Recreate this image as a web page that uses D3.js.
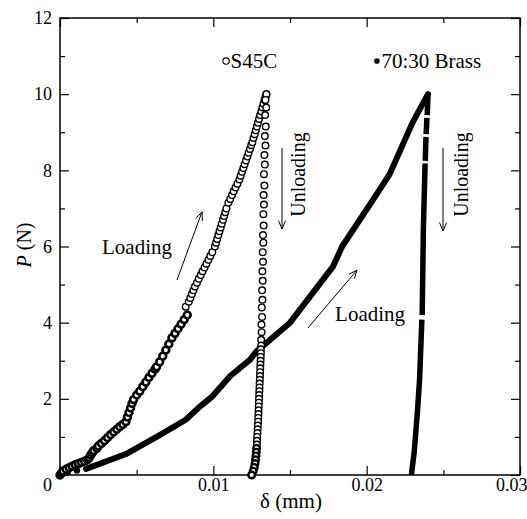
<!DOCTYPE html>
<html><head><meta charset="utf-8">
<script src="https://cdn.jsdelivr.net/npm/d3@7"></script>
<style>
html,body{margin:0;padding:0;background:#fff;}
</style></head>
<body><svg id="c" width="527" height="519"></svg>
<script>
// ---- data (δ in mm, P in N) ----
const xMajorTicks = [0, 0.01, 0.02, 0.03];
const xMinorTicks = [0.005, 0.015, 0.025];
const yMajorTicks = [0, 2, 4, 6, 8, 10, 12];
const yMinorTicks = [1, 3, 5, 7, 9, 11];

const s45cLoading = [
 [0,0],[0.0001,0.05],[0.0002,0.1],[0.0004,0.15],[0.0006,0.19],[0.0008,0.23],[0.001,0.27],[0.0012,0.3],[0.0014,0.33],[0.0016,0.36],[0.0018,0.4],[0.0019,0.45],
 [0.002,0.52],[0.0021,0.58],[0.0022,0.64],[0.0024,0.7],[0.0025,0.76],[0.0027,0.83],[0.0029,0.9],[0.0031,0.98],[0.0033,1.06],[0.0035,1.13],[0.0037,1.2],[0.0039,1.27],[0.0041,1.33],[0.0043,1.4],
 [0.0044,1.52],[0.0045,1.64],[0.0046,1.76],[0.0047,1.88],[0.0048,1.98],[0.005,2.1],
 [0.0052,2.2],[0.0054,2.32],[0.0056,2.44],[0.0058,2.56],[0.006,2.67],[0.0062,2.78],[0.0063,2.84],
 [0.0065,2.97],[0.0067,3.12],[0.0069,3.28],[0.0071,3.44],[0.0073,3.6],
 [0.0075,3.72],[0.0077,3.84],[0.0079,3.96],[0.0081,4.08],[0.0083,4.2],[0.0082,4.42],
 [0.0084,4.55],[0.0085,4.65],[0.0086,4.75],[0.0087,4.85],[0.0088,4.95],
 [0.00893,5.05],[0.00905,5.15],[0.00918,5.25],[0.0093,5.35],[0.00943,5.45],[0.00955,5.55],[0.00968,5.65],[0.0098,5.75],[0.00993,5.85],[0.0101,6.0],
 [0.01018,6.1],[0.01025,6.2],[0.01033,6.3],[0.0104,6.4],[0.01048,6.5],[0.01055,6.6],[0.01063,6.7],[0.0107,6.8],[0.01078,6.9],[0.01085,7.0],
 [0.01098,7.15],[0.0111,7.25],[0.01122,7.35],[0.01133,7.45],[0.01145,7.55],[0.01157,7.65],[0.0117,7.76],
 [0.01178,7.86],[0.01187,7.96],[0.01196,8.06],[0.01204,8.16],[0.01213,8.26],[0.01222,8.36],[0.0123,8.46],[0.01239,8.56],[0.01247,8.66],[0.01255,8.74],
 [0.01262,8.85],[0.0127,8.95],[0.01277,9.05],[0.01284,9.15],[0.01291,9.25],[0.01298,9.35],[0.01305,9.45],[0.01313,9.55],[0.0132,9.65],[0.01327,9.75],[0.01334,9.85],[0.0134,9.93],[0.01346,10]
];
const s45cUnloading = [
 [0.01346,10],[0.0134,9.85],[0.01345,9.65],[0.01338,9.45],[0.01342,9.15],[0.01336,8.9],[0.0134,8.65],[0.01333,8.4],[0.01336,8.15],[0.0133,7.9],[0.01333,7.6],[0.01328,7.35],[0.0133,7.1],[0.01326,6.85],[0.01328,6.55],[0.01324,6.3],[0.01326,6.1],[0.01322,5.85],[0.01324,5.6],[0.0132,5.35],[0.01322,5.1],[0.01318,4.85],[0.0132,4.6],[0.01316,4.4],[0.01318,4.15],[0.01314,3.95],[0.01315,3.75],[0.01312,3.55],[0.01312,3.4],
 [0.0131,3.3],[0.0131,3.2],[0.01309,3.1],[0.01308,3.0],[0.01307,2.9],[0.01306,2.8],[0.01305,2.7],[0.01304,2.6],[0.01303,2.5],[0.01302,2.4],[0.01301,2.3],[0.013,2.2],[0.01299,2.1],[0.01298,2.0],[0.01297,1.9],[0.01296,1.8],[0.01295,1.7],[0.01294,1.6],[0.01293,1.5],[0.01292,1.4],[0.0129,1.3],[0.01289,1.2],[0.01288,1.1],[0.01286,1.0],[0.01285,0.9],[0.01284,0.8],[0.01282,0.7],[0.0128,0.6],[0.01278,0.5],[0.01275,0.4],[0.01272,0.3],[0.01267,0.2],[0.0126,0.1],[0.0125,0]
];
const brassStart = [[0,0],[0.0005,0.08],[0.0011,0.12]];
const brassLoading = [
 [0.0017,0.16],[0.0043,0.55],[0.0065,1.05],[0.0082,1.45],[0.0091,1.79],[0.0099,2.05],[0.0111,2.6],[0.0124,3.03],[0.0128,3.24],[0.015,4.0],[0.0178,5.47],[0.0184,6.0],[0.0204,7.22],[0.0215,7.9],[0.023,9.26],[0.024,10]
];
const brassUnloading = [
 [[0.024,10],[0.02395,9.45]],
 [[0.02393,9.38],[0.02388,8.95]],
 [[0.02387,8.88],[0.02382,8.25]],
 [[0.02381,8.18],[0.0237,6.5],[0.02362,4.2]],
 [[0.0236,4.08],[0.02345,2.5],[0.0233,1.6],[0.0231,0.6],[0.02296,0.15],[0.02292,0]]
];
const legendItems = [
 {label:"S45C", filled:false, at:[0.01083,10.87]},
 {label:"70:30 Brass", filled:true, at:[0.02067,10.87]}
];
const loadingLabels = [[0.00274,5.80],[0.01794,4.04]];
const loadingArrows = [[[0.00763,5.12],[0.00926,6.91]],[[0.01617,3.86],[0.01937,5.38]]];
const unloadingLabels = [[0.01598,6.78],[0.02661,6.78]];
const unloadingArrows = [[[0.01448,8.59],[0.01448,6.46]],[[0.02498,8.59],[0.02498,6.41]]];

// ---- chart ----
const FONT = "Liberation Serif";
const svg = d3.select("#c");
const L=60, R=520, T=18, B=475;
const x = d3.scaleLinear().domain([0,0.03]).range([L,R]);
const y = d3.scaleLinear().domain([0,12]).range([B,T]);

function ax(g, axis){ g.call(axis); g.attr("font-family",FONT); g.select(".domain").remove(); g.selectAll("line").attr("stroke","#000").attr("stroke-width",1.2); }

ax(svg.append("g").attr("transform",`translate(0,${B})`),
  d3.axisBottom(x).tickValues(xMajorTicks).tickSize(-9).tickSizeOuter(0).tickPadding(3).tickFormat(d=>d===0?"0":d3.format(".2f")(d)));
ax(svg.append("g").attr("transform",`translate(0,${B})`),
  d3.axisBottom(x).tickValues(xMinorTicks).tickSize(-5).tickSizeOuter(0).tickFormat(""));
ax(svg.append("g").attr("transform",`translate(0,${T})`),
  d3.axisTop(x).tickValues(xMajorTicks).tickSize(-9).tickSizeOuter(0).tickFormat(""));
ax(svg.append("g").attr("transform",`translate(0,${T})`),
  d3.axisTop(x).tickValues(xMinorTicks).tickSize(-5).tickSizeOuter(0).tickFormat(""));
ax(svg.append("g").attr("transform",`translate(${L},0)`),
  d3.axisLeft(y).tickValues(yMajorTicks).tickSize(-9).tickSizeOuter(0).tickPadding(8).tickFormat(d=>d===0?"":d));
ax(svg.append("g").attr("transform",`translate(${L},0)`),
  d3.axisLeft(y).tickValues(yMinorTicks).tickSize(-5).tickSizeOuter(0).tickFormat(""));
ax(svg.append("g").attr("transform",`translate(${R},0)`),
  d3.axisRight(y).tickValues(yMajorTicks).tickSize(-9).tickSizeOuter(0).tickFormat(""));
ax(svg.append("g").attr("transform",`translate(${R},0)`),
  d3.axisRight(y).tickValues(yMinorTicks).tickSize(-5).tickSizeOuter(0).tickFormat(""));

svg.selectAll(".tick text").attr("font-size",18).attr("font-family",FONT).attr("fill","#000");
svg.selectAll(".tick text").filter(d=>d===0).attr("dx",-13);
svg.selectAll(".tick text").filter(d=>d===0.03).attr("text-anchor","end").attr("dx",7);

svg.append("rect").attr("x",L).attr("y",T).attr("width",R-L).attr("height",B-T)
  .attr("fill","none").attr("stroke","#000").attr("stroke-width",1.5);

// axis titles
svg.append("text").attr("x",291).attr("y",508).attr("text-anchor","middle").attr("font-size",21).attr("font-family",FONT).text("δ (mm)");
const yt = svg.append("text").attr("transform","translate(31,245) rotate(-90)").attr("text-anchor","middle").attr("font-size",20).attr("font-family",FONT);
yt.append("tspan").attr("font-style","italic").text("P");
yt.append("tspan").text(" (N)");

// brass (filled, dense -> thick line)
const line = d3.line().x(d=>x(d[0])).y(d=>y(d[1]));
const brassG = svg.append("g");
brassG.append("path").attr("d",line(brassLoading)).attr("fill","none").attr("stroke","#000")
  .attr("stroke-width",6).attr("stroke-linejoin","round").attr("stroke-linecap","round");
brassUnloading.forEach(seg=>{
  brassG.append("path").attr("d",line(seg)).attr("fill","none").attr("stroke","#000")
    .attr("stroke-width",5.5).attr("stroke-linejoin","round").attr("stroke-linecap","butt");
});
brassG.selectAll("circle").data(brassStart).join("circle")
  .attr("cx",d=>x(d[0])).attr("cy",d=>y(d[1])).attr("r",3.2).attr("fill","#000");

// S45C open circles (dense low-load part reads almost solid)
const sG = svg.append("g");
sG.selectAll("circle.l").data(s45cLoading).join("circle").attr("class","l")
  .attr("cx",d=>x(d[0])).attr("cy",d=>y(d[1])).attr("r",d=>d[1]<4.3?3.4:3.3)
  .attr("fill","#fff").attr("stroke","#000").attr("stroke-width",d=>d[1]<4.3?2.6:1.4);
sG.selectAll("circle.u").data(s45cUnloading).join("circle").attr("class","u")
  .attr("cx",d=>x(d[0])).attr("cy",d=>y(d[1])).attr("r",3.3)
  .attr("fill","#fff").attr("stroke","#000").attr("stroke-width",d=>d[1]<0.8?2.4:1.4);

// legend
legendItems.forEach(it=>{
  const cx=x(it.at[0]), cy=y(it.at[1]);
  svg.append("circle").attr("cx",cx).attr("cy",cy).attr("r",it.filled?2.8:3.2)
    .attr("fill",it.filled?"#000":"#fff").attr("stroke","#000").attr("stroke-width",it.filled?0:1.1);
  svg.append("text").attr("x",cx+4.5).attr("y",cy+6.5).attr("font-size",21).attr("font-family",FONT).text(it.label);
});

// annotations
function arrow(a,b){
  const x1=x(a[0]), y1=y(a[1]), x2=x(b[0]), y2=y(b[1]);
  svg.append("line").attr("x1",x1).attr("y1",y1).attr("x2",x2).attr("y2",y2).attr("stroke","#000").attr("stroke-width",1);
  const ang=Math.atan2(y2-y1,x2-x1), h=9, s=0.4;
  const p=`M${x2-h*Math.cos(ang-s)},${y2-h*Math.sin(ang-s)}L${x2},${y2}L${x2-h*Math.cos(ang+s)},${y2-h*Math.sin(ang+s)}`;
  svg.append("path").attr("d",p).attr("fill","none").attr("stroke","#000").attr("stroke-width",1);
}
loadingLabels.forEach(p=>svg.append("text").attr("x",x(p[0])).attr("y",y(p[1])).attr("font-size",21).attr("font-family",FONT).text("Loading"));
loadingArrows.forEach(a=>arrow(a[0],a[1]));
unloadingLabels.forEach(p=>svg.append("text").attr("transform",`translate(${x(p[0])},${y(p[1])}) rotate(-90)`).attr("font-size",20).attr("font-family",FONT).text("Unloading"));
unloadingArrows.forEach(a=>arrow(a[0],a[1]));
</script></body></html>
